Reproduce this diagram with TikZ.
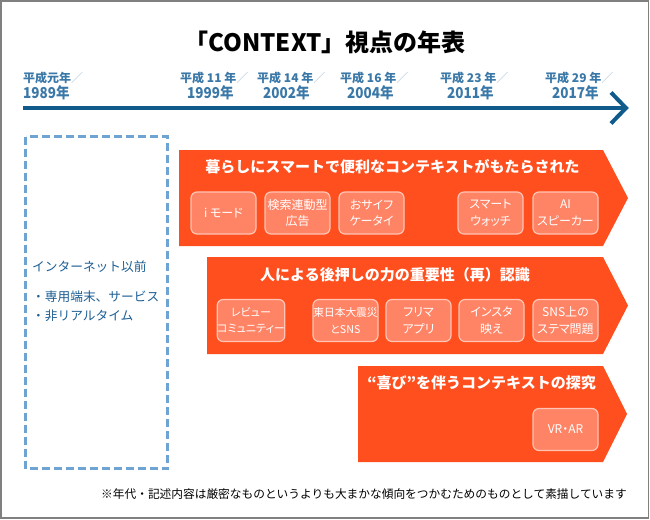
\documentclass[tikz,border=0pt]{standalone}
\usepackage{fontspec}
\setmainfont{Noto Sans CJK JP}
\newfontfamily\jpp{Noto Sans CJK JP}[RawFeature=+palt]
\newfontfamily\jpn{Noto Sans CJK JP}[FakeStretch=0.9]
\definecolor{tlblue}{RGB}{16,90,140}
\definecolor{lblblue}{RGB}{58,120,168}
\definecolor{slashc}{RGB}{170,192,214}
\definecolor{bandc}{RGB}{255,79,30}
\definecolor{boxc}{RGB}{255,132,102}
\definecolor{boxline}{RGB}{255,196,180}
\definecolor{dashc}{RGB}{111,163,210}
\definecolor{dtext}{RGB}{28,94,147}
\tikzset{
  lblone/.style={anchor=west, inner sep=0pt, text=lblblue, font=\fontsize{12}{14}\selectfont\bfseries},
  lbltwo/.style={anchor=west, inner sep=0pt, text=lblblue, font=\jpn\fontsize{15}{17}\selectfont\bfseries},
  band/.style={fill=bandc, draw=none},
  bandtitle/.style={inner sep=0pt, text=white, font=\fontsize{15}{17}\selectfont\bfseries},
  sbox/.style={draw=boxline, line width=1.2pt, fill=boxc, rounded corners=6pt,
    minimum width=65pt, minimum height=42pt, inner sep=0pt, align=center, text=white,
    font=\jpp\fontsize{12}{16.5}\selectfont},
  dtxt/.style={anchor=west, inner sep=0pt, text=dtext, font=\fontsize{12.7}{15}\selectfont}
}
\newcommand{\slashmark}{\textcolor{slashc}{\mdseries ／}}
\begin{document}
\begin{tikzpicture}[x=1pt,y=-1pt]
\useasboundingbox (0,0) rectangle (650,519);
\draw[gray, line width=1.5pt] (1,1) rectangle (648.5,518);
% title
\node[inner sep=0pt, font=\fontsize{24}{28}\selectfont\bfseries] (title) at (325,42) {「CONTEXT」視点の年表};
% timeline labels
\node[lblone] (a1) at (23,77.5) {平成元年\slashmark};
\node[lbltwo] (a2) at (23,92.5) {1989年};
\node[lblone] (b1) at (180,77.5) {平成 11 年\slashmark};
\node[lbltwo] (b2) at (187,92.5) {1999年};
\node[lblone] (c1) at (257,77.5) {平成 14 年\slashmark};
\node[lbltwo] (c2) at (263,92.5) {2002年};
\node[lblone] (d1) at (340,77.5) {平成 16 年\slashmark};
\node[lbltwo] (d2) at (347,92.5) {2004年};
\node[lblone] (e1) at (440,77.5) {平成 23 年\slashmark};
\node[lbltwo] (e2) at (447,92.5) {2011年};
\node[lblone] (f1) at (545,77.5) {平成 29 年\slashmark};
\node[lbltwo] (f2) at (552,92.5) {2017年};
% timeline arrow
\coordinate (ts) at (23,108);
\coordinate (tt) at (626,108);
\coordinate (tu) at (611,92.5);
\coordinate (tl) at (611,123.5);
\draw[tlblue, line width=4pt] (ts) -- (tt);
\draw[tlblue, line width=4pt, line join=miter] (tu) -- (tt) -- (tl);
% dashed box
\draw[dashc, line width=2.8pt, dash pattern=on 8pt off 4pt] (25.5,136.5) rectangle (167.5,468.5);
\node[dtxt] (n1) at (32,267) {インターネット以前};
\node[dtxt] (n2) at (32,297) {・専用端末、サービス};
\node[dtxt] (n3) at (32,316) {・非リアルタイム};
% bands
\fill[band] (179,150) -- (603,150) -- (628,198) -- (603,246) -- (179,246) -- cycle;
\fill[band] (207,257) -- (603,257) -- (628,305.5) -- (603,354) -- (207,354) -- cycle;
\fill[band] (358,366) -- (603,366) -- (627,414) -- (603,462) -- (358,462) -- cycle;
\node[bandtitle] (t1) at (392.5,167) {暮らしにスマートで便利なコンテキストがもたらされた};
\node[bandtitle] (t2) at (395,275) {人による後押しの力の重要性（再）認識};
\node[bandtitle] (t3) at (481.5,383) {“喜び”を伴うコンテキストの探究};
% row 1
\node[sbox] (r11) at (223.5,213) {i モード};
\node[sbox] (r12) at (297.5,213) {検索連動型\\広告};
\node[sbox] (r13) at (371.5,213) {おサイフ\\ケータイ};
\node[sbox] (r14) at (490.5,213) {スマート\\ウォッチ};
\node[sbox] (r15) at (565.5,213) {AI\\スピーカー};
% row 2
\node[sbox, font=\jpp\fontsize{11}{16.5}\selectfont] (r21) at (251,320.5) {レビュー\\コミュニティー};
\node[sbox, font=\jpp\fontsize{10.7}{16.5}\selectfont] (r22) at (345.5,320.5) {東日本大震災\\とSNS};
\node[sbox] (r23) at (418.5,320.5) {フリマ\\アプリ};
\node[sbox] (r24) at (491.5,320.5) {インスタ\\映え};
\node[sbox] (r25) at (565.5,320.5) {SNS上の\\ステマ問題};
% row 3
\node[sbox] (r31) at (565.5,429.5) {VR・AR};
% footnote
\node[anchor=east, inner sep=0pt, font=\fontsize{11.7}{14}\selectfont] (foot) at (627,494) {※年代・記述内容は厳密なものというよりも大まかな傾向をつかむためのものとして素描しています};
\end{tikzpicture}
\end{document}
